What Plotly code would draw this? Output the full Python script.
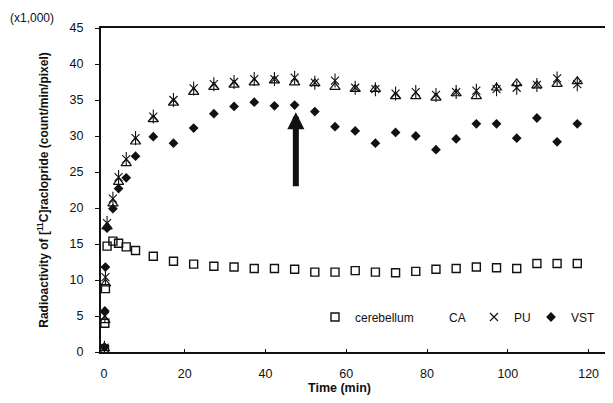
import plotly.graph_objects as go

# Time (min)
time_min = [0.1, 0.2, 0.35, 0.75, 2.2, 3.6, 5.5, 7.8, 12.2, 17.2, 22.2, 27.2, 32.2,
            37.2, 42.2, 47.2, 52.2, 57.2, 62.2, 67.2, 72.2, 77.2, 82.2, 87.2, 92.2,
            97.2, 102.2, 107.2, 112.2, 117.2]

# Radioactivity (x1,000 count/min/pixel)
cerebellum = [0.4, 4.0, 8.8, 14.7, 15.4, 15.1, 14.6, 14.1, 13.3, 12.6, 12.2, 11.9, 11.8,
              11.6, 11.6, 11.5, 11.1, 11.1, 11.3, 11.1, 11.0, 11.2, 11.5, 11.6, 11.8,
              11.7, 11.6, 12.3, 12.3, 12.3]
ca = [0.5, 4.4, 9.5, 17.4, 20.6, 23.6, 26.2, 29.2, 32.3, 34.6, 36.1, 36.8, 37.1,
      37.4, 37.7, 37.4, 37.3, 36.8, 36.5, 36.5, 35.5, 35.5, 35.3, 35.9, 35.5,
      36.7, 37.3, 37.0, 37.2, 37.6]
pu = [0.6, 5.0, 10.4, 17.9, 21.3, 24.3, 26.8, 29.7, 32.7, 35.0, 36.6, 37.2, 37.5,
      37.9, 37.9, 38.1, 37.4, 37.7, 36.7, 36.5, 35.9, 36.1, 35.7, 36.1, 36.3,
      36.5, 36.7, 37.1, 38.0, 37.2]
vst = [0.7, 5.7, 11.8, 17.2, 19.9, 22.7, 24.2, 27.2, 29.9, 29.0, 31.1, 33.1, 34.1,
       34.7, 34.2, 34.3, 33.4, 31.3, 30.7, 29.0, 30.5, 30.0, 28.1, 29.6, 31.7,
       31.7, 29.7, 32.5, 29.2, 31.7]

x_ticks = [0, 20, 40, 60, 80, 100, 120]
y_ticks = [0, 5, 10, 15, 20, 25, 30, 35, 40, 45]

FONT = "Liberation Sans, Arial, sans-serif"
INK = "#111111"

# the page body adds an 8px offset, so the figure is 8px smaller than the window
OFF = 8
W, H = 613 - OFF, 403 - OFF
# plot area in window pixels: left 101, right 610, top 28, bottom 352
ML, MT = 101 - OFF, 28 - OFF
MR = W - (610 - OFF)
MB = H - (352 - OFF)
pw, ph = W - ML - MR, H - MT - MB


def px_to_paper_x(px):
    return (px - OFF - ML) / pw


def py_to_paper_y(py):
    return (H - MB - (py - OFF)) / ph


fig = go.Figure()

fig.add_trace(go.Scatter(
    x=time_min, y=cerebellum, mode="markers", name="cerebellum", legend="legend",
    marker=dict(symbol="square-open", size=8, color=INK, line=dict(width=1.4, color=INK))))

fig.add_trace(go.Scatter(
    x=time_min, y=ca, mode="markers", name="CA", showlegend=False,
    marker=dict(symbol="triangle-up-open", size=9, color=INK, line=dict(width=1.2, color=INK))))
# legend entry for CA (reference shows no symbol next to it)
fig.add_trace(go.Scatter(
    x=[None], y=[None], mode="markers", name="CA", legend="legend2",
    marker=dict(symbol="triangle-up-open", size=10, color="rgba(0,0,0,0)",
                line=dict(width=0, color="rgba(0,0,0,0)"))))

fig.add_trace(go.Scatter(
    x=time_min, y=pu, mode="markers", name="PU", legend="legend3",
    marker=dict(symbol="x-thin-open", size=8, color=INK, line=dict(width=1.1, color=INK))))
fig.add_trace(go.Scatter(
    x=time_min, y=pu, mode="markers", name="PU", showlegend=False,
    marker=dict(symbol="line-ns-open", size=10, color=INK, line=dict(width=1.1, color=INK))))

fig.add_trace(go.Scatter(
    x=time_min, y=vst, mode="markers", name="VST", legend="legend4",
    marker=dict(symbol="diamond", size=7.5, color=INK, line=dict(width=0))))

# arrow pointing to the 47-min frame
fig.add_annotation(x=47.5, y=33.3, ax=47.5, ay=22.8, xref="x", yref="y",
                   axref="x", ayref="y", text="", showarrow=True,
                   arrowhead=2, arrowwidth=6, arrowsize=0.57, arrowcolor=INK, standoff=0)

fig.add_annotation(text="(x1,000)", x=px_to_paper_x(8), y=py_to_paper_y(9),
                   xref="paper", yref="paper", showarrow=False,
                   font=dict(family=FONT, size=12, color=INK),
                   xanchor="left", yanchor="top")

fig.add_annotation(text="<b>Time (min)</b>", x=px_to_paper_x(339), y=py_to_paper_y(388),
                   xref="paper", yref="paper", showarrow=False,
                   font=dict(family=FONT, size=12.5, color=INK), xanchor="center", yanchor="middle")

legend_common = dict(orientation="h", font=dict(family=FONT, size=12, color=INK),
                     bgcolor="rgba(0,0,0,0)", borderwidth=0, yanchor="middle",
                     y=py_to_paper_y(317), xanchor="left")

fig.update_layout(
    width=W, height=H,
    margin=dict(l=ML, r=MR, t=MT, b=MB, autoexpand=False),
    paper_bgcolor="white", plot_bgcolor="white",
    font=dict(family=FONT, size=12, color=INK),
    legend=dict(legend_common, x=px_to_paper_x(333 - 18)),
    legend2=dict(legend_common, x=px_to_paper_x(447 - 38)),
    legend3=dict(legend_common, x=px_to_paper_x(492 - 18)),
    legend4=dict(legend_common, x=px_to_paper_x(549 - 18)),
    xaxis=dict(range=[-0.75, 125.3], tickvals=x_ticks, ticks="inside", ticklen=3,
               tickcolor=INK, tickwidth=1, showline=True, linewidth=2, linecolor=INK,
               mirror=True, showgrid=False, zeroline=False, ticklabelstandoff=9,
               automargin=False,
               tickfont=dict(family=FONT, size=12.5, color=INK)),
    yaxis=dict(range=[0, 45], tickvals=y_ticks, ticks="outside", ticklen=4,
               tickcolor=INK, tickwidth=1, showline=True, linewidth=2, linecolor=INK,
               mirror=True, showgrid=False, zeroline=False, ticklabelstandoff=9,
               automargin=False,
               tickfont=dict(family=FONT, size=12.5, color=INK),
               title=dict(text="<b>Radioactivity of [<sup>11</sup>C]raclopride (count/min/pixel)</b>",
                          font=dict(family=FONT, size=12, color=INK), standoff=18)),
)

fig.write_html("out.html")
